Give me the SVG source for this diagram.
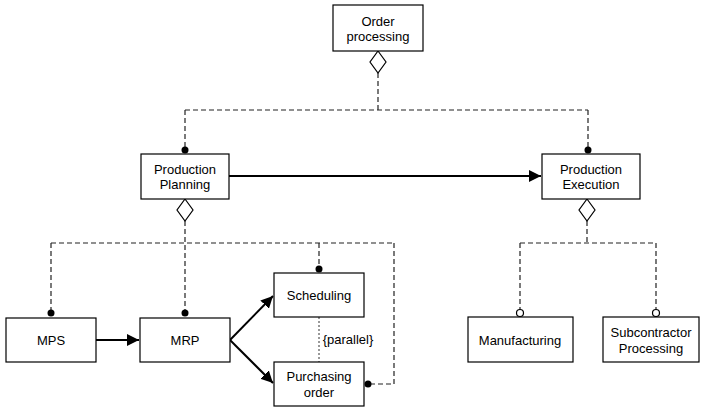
<svg xmlns="http://www.w3.org/2000/svg" width="701" height="409" viewBox="0 0 701 409">
  <style>
    .box { fill: #ffffff; stroke: #000000; stroke-width: 1.2; }
    .lbl { font-family: "Liberation Sans", Arial, sans-serif; font-size: 13px; fill: #000000; text-anchor: middle; dominant-baseline: central; }
    .dash { fill: none; stroke: #222222; stroke-width: 1.2; stroke-dasharray: 5 3; }
    .dot { fill: none; stroke: #333333; stroke-width: 1; stroke-dasharray: 2 2; }
    .flow { fill: none; stroke: #000000; stroke-width: 2; }
    .diamond { fill: #ffffff; stroke: #000000; stroke-width: 1.2; }
    .end { fill: #000000; }
    .open { fill: #ffffff; stroke: #000000; stroke-width: 1.2; }
  </style>
  <defs>
    <marker id="arrow" viewBox="0 0 10 10" refX="10" refY="5" markerWidth="6" markerHeight="6" markerUnits="strokeWidth" orient="auto">
      <path d="M0,0 L10,5 L0,10 z" fill="#000000"/>
    </marker>
  </defs>

  <!-- connectors -->
  <g id="connectors">
    <!-- aggregation: order processing -->
    <path class="dash" d="M378,73 V110 M185,110 H588 M185,110 V147 M588,110 V147"/>
    <!-- aggregation: production planning -->
    <path class="dash" d="M185,221 V310 M51,243 H394 M51,243 V310 M319,243 V266 M394,243 V384 H371"/>
    <!-- aggregation: production execution -->
    <path class="dash" d="M587,221 V243 M520,243 H656 M520,243 V310 M656,243 V310"/>
    <!-- parallel constraint -->
    <path class="dot" d="M319,317 V362"/>
    <text class="lbl" x="348" y="339">{parallel}</text>
    <!-- control flow -->
    <path class="flow" d="M229,176 H541" marker-end="url(#arrow)"/>
    <path class="flow" d="M96,340 H139" marker-end="url(#arrow)"/>
    <path class="flow" d="M230,340 L273,296" marker-end="url(#arrow)"/>
    <path class="flow" d="M230,340 L273,383" marker-end="url(#arrow)"/>
    <!-- diamonds -->
    <path class="diamond" d="M378,51 L386,62 L378,73 L370,62 z"/>
    <path class="diamond" d="M185,199 L193,210 L185,221 L177,210 z"/>
    <path class="diamond" d="M587,199 L595,210 L587,221 L579,210 z"/>
    <!-- ends -->
    <circle class="end" cx="185" cy="150" r="3.5"/>
    <circle class="end" cx="588" cy="150" r="3.5"/>
    <circle class="end" cx="51" cy="313" r="3.5"/>
    <circle class="end" cx="185" cy="313" r="3.5"/>
    <circle class="end" cx="319" cy="269" r="3.5"/>
    <circle class="end" cx="368" cy="384" r="3.5"/>
    <circle class="open" cx="520" cy="313" r="3.5"/>
    <circle class="open" cx="656" cy="313" r="3.5"/>
  </g>

  <g id="order-processing">
    <rect class="box" x="333" y="5" width="90" height="46"/>
    <text class="lbl" x="378" y="21">Order</text>
    <text class="lbl" x="378" y="36">processing</text>
  </g>
  <g id="production-planning">
    <rect class="box" x="141" y="154" width="88" height="45"/>
    <text class="lbl" x="185" y="169">Production</text>
    <text class="lbl" x="185" y="184">Planning</text>
  </g>
  <g id="production-execution">
    <rect class="box" x="542" y="154" width="98" height="45"/>
    <text class="lbl" x="591" y="169">Production</text>
    <text class="lbl" x="591" y="184">Execution</text>
  </g>
  <g id="mps">
    <rect class="box" x="6" y="318" width="90" height="44"/>
    <text class="lbl" x="51" y="340">MPS</text>
  </g>
  <g id="mrp">
    <rect class="box" x="140" y="318" width="90" height="44"/>
    <text class="lbl" x="185" y="340">MRP</text>
  </g>
  <g id="scheduling">
    <rect class="box" x="274" y="273" width="90" height="44"/>
    <text class="lbl" x="319" y="295">Scheduling</text>
  </g>
  <g id="purchasing-order">
    <rect class="box" x="274" y="362" width="90" height="44"/>
    <text class="lbl" x="319" y="376">Purchasing</text>
    <text class="lbl" x="319" y="392">order</text>
  </g>
  <g id="manufacturing">
    <rect class="box" x="468" y="317" width="105" height="45"/>
    <text class="lbl" x="520" y="340">Manufacturing</text>
  </g>
  <g id="subcontractor-processing">
    <rect class="box" x="603" y="317" width="96" height="45"/>
    <text class="lbl" x="651" y="332">Subcontractor</text>
    <text class="lbl" x="651" y="348">Processing</text>
  </g>
</svg>
